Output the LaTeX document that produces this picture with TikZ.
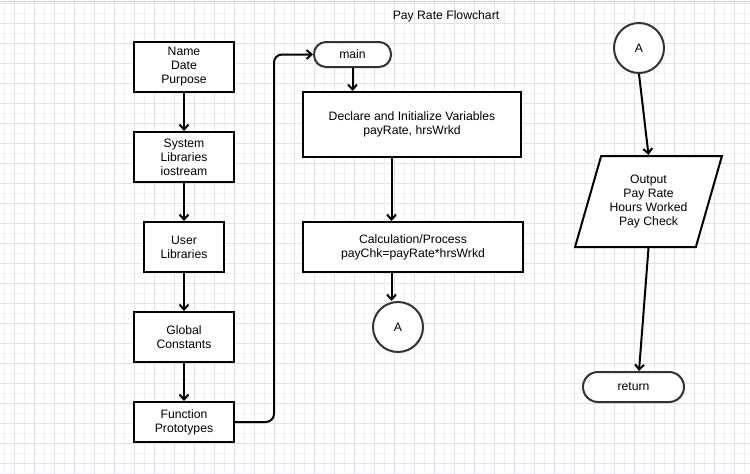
\documentclass[tikz,border=0pt]{standalone}
\usepackage{fontspec}
\setmainfont{Liberation Sans}
\usetikzlibrary{arrows.meta,shapes.geometric}

\definecolor{gridlight}{HTML}{F1F1F6}
\definecolor{griddark}{HTML}{E2E2EC}
\definecolor{edgegray}{HTML}{333333}

\tikzset{
  txt/.style={font=\fontsize{12.2}{14}\selectfont, align=center, inner sep=0pt},
  stepbox/.style={txt, draw=black, line width=2pt, fill=white, minimum width=100pt, minimum height=50pt},
  termbox/.style={txt, draw=edgegray, line width=2pt, fill=white, rounded corners=12pt},
  connector/.style={txt, circle, draw=edgegray, line width=2pt, fill=white, minimum size=50pt},
  iobox/.style={txt, trapezium, trapezium left angle=68, trapezium right angle=112,
    trapezium stretches=true, draw=black, line width=2pt, fill=white},
  flow/.style={draw=black, line width=2pt, -{Straight Barb[length=5pt,width=9pt]}}
}

\begin{document}
\begin{tikzpicture}[x=1pt,y=-1pt]
    \useasboundingbox (0,0) rectangle (750,474);
    \fill[white] (0,0) rectangle (750,474);

    % background grid
    \foreach \x in {4,14,...,744}
        \draw[gridlight, line width=1pt] (\x,0) -- (\x,474);
    \foreach \y in {3,13,...,473}
        \draw[gridlight, line width=1pt] (0,\y) -- (750,\y);
    \foreach \x in {14,34,...,734}
        \draw[griddark, line width=1pt] (\x,0) -- (\x,474);
    \foreach \y in {3,23,...,463}
        \draw[griddark, line width=1pt] (0,\y) -- (750,\y);
    \draw[gray!35, line width=1.5pt] (0,1.5) -- (750,1.5);

    \node[txt] (title) at (446,16) {Pay Rate Flowchart};

    % left column
    \node[stepbox] (header) at (184,67) {Name\\Date\\Purpose};
    \node[stepbox] (syslib) at (184,157) {System\\Libraries\\iostream};
    \node[stepbox, minimum width=80pt] (userlib) at (184,247) {User\\Libraries};
    \node[stepbox] (globals) at (184,337) {Global\\Constants};
    \node[stepbox, minimum height=40pt] (proto) at (184,422) {Function\\Prototypes};

    \draw[flow] (header) -- (syslib);
    \draw[flow] (syslib) -- (userlib);
    \draw[flow] (userlib) -- (globals);
    \draw[flow] (globals) -- (proto);

    % main column
    \node[termbox, minimum width=77pt, minimum height=25pt] (main) at (352.5,54.5) {main};
    \node[stepbox, minimum width=218pt, minimum height=65pt] (declare) at (412,124.5)
        {Declare and Initialize Variables\\payRate, hrsWrkd};
    \node[stepbox, minimum width=220pt] (calc) at (413,247)
        {Calculation/Process\\payChk=payRate*hrsWrkd};
    \node[connector] (conA) at (398,327) {A};

    \coordinate (bend) at (274,54.5);
    \coordinate (colx) at (391.5,0);
    \draw[flow, rounded corners=8pt] (proto.east) -| (bend) -- (main.west);
    \draw[flow] (main) -- (main |- declare.north);
    \draw[flow] (declare.south -| colx) -- (calc.north -| colx);
    \draw[flow] (calc.south -| colx) -- (conA.north -| colx);

    % output column
    \node[connector] (conB) at (639,48) {A};
    \node[iobox, minimum width=147pt, minimum height=91pt] (output) at (648.5,201.5)
        {Output\\Pay Rate\\Hours Worked\\Pay Check};
    \node[termbox, minimum width=101pt, minimum height=30pt, rounded corners=15pt] (ret) at (633.5,387) {return};

    \draw[flow] (conB.south) -- (output.north);
    \draw[flow] (output.south) -- (ret.north -| conB);
\end{tikzpicture}
\end{document}
